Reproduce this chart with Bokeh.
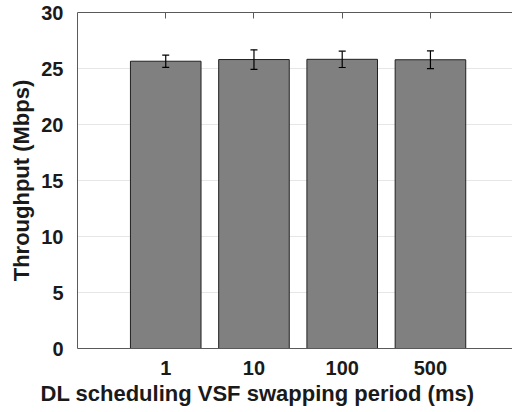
from bokeh.plotting import figure
from bokeh.models import (ColumnDataSource, Range1d, FixedTicker, LinearAxis,
                          Whisker, TeeHead, Title)
from bokeh.embed import file_html
from bokeh.resources import INLINE

# ---- data ----
categories = ["1", "10", "100", "500"]
throughput = [25.65, 25.80, 25.82, 25.78]
errors = [0.55, 0.87, 0.73, 0.80]
y_ticks = [0, 5, 10, 15, 20, 25, 30]

xpos = list(range(1, len(categories) + 1))
src = ColumnDataSource(dict(
    x=xpos,
    top=throughput,
    upper=[t + e for t, e in zip(throughput, errors)],
    lower=[t - e for t, e in zip(throughput, errors)],
))

FONT = "Liberation Sans"
AX = "#5a5a5a"

p = figure(frame_width=435, frame_height=336, output_backend="svg",
           toolbar_location=None,
           x_range=Range1d(0, 4.93), y_range=Range1d(0, 30),
           min_border_left=77, min_border_right=0, min_border_top=12,
           min_border_bottom=64)
p.outline_line_color = None
p.background_fill_color = "white"

p.vbar(x="x", top="top", width=0.8, bottom=0, source=src,
       fill_color="#808080", line_color="#202020", line_width=1)

w = Whisker(base="x", upper="upper", lower="lower", source=src,
            level="overlay",
            line_color="black", line_width=1.2,
            upper_head=TeeHead(size=7, line_color="black", line_width=1.2),
            lower_head=TeeHead(size=7, line_color="black", line_width=1.2))
p.add_layout(w)

# x axis
xa = p.xaxis[0]
xa.ticker = FixedTicker(ticks=xpos)
xa.major_label_overrides = {i: c for i, c in zip(xpos, categories)}
xa.major_tick_in = 0
xa.major_tick_out = 0
xa.minor_tick_line_color = None
xa.axis_line_color = AX
xa.major_label_text_font = FONT
xa.major_label_text_font_style = "bold"
xa.major_label_text_font_size = "20px"
xa.major_label_text_color = "#1a1a1a"
xa.major_label_standoff = 12

# y axis
ya = p.yaxis[0]
ya.ticker = FixedTicker(ticks=y_ticks)
ya.major_tick_in = 0
ya.major_tick_out = 0
ya.minor_tick_line_color = None
ya.axis_line_color = AX
ya.major_label_text_font = FONT
ya.major_label_text_font_style = "bold"
ya.major_label_text_font_size = "20px"
ya.major_label_text_color = "#1a1a1a"
ya.major_label_standoff = 14
ya.axis_label = "Throughput (Mbps)"
ya.axis_label_text_font = FONT
ya.axis_label_text_font_style = "bold"
ya.axis_label_text_font_size = "22px"
ya.axis_label_text_color = "#1a1a1a"
ya.axis_label_standoff = 4

# top axis with inward ticks only
ta = LinearAxis(ticker=FixedTicker(ticks=xpos), major_tick_in=6,
                major_tick_out=0, major_label_standoff=0,
                major_label_overrides={i: "" for i in xpos},
                major_label_text_font_size="4px",
                minor_tick_line_color=None,
                axis_line_color=AX, major_tick_line_color=AX)
p.add_layout(ta, "above")

p.xgrid.grid_line_color = None
p.ygrid.ticker = FixedTicker(ticks=y_ticks)
p.ygrid.grid_line_color = "#e6e6e6"
p.ygrid.grid_line_width = 1

# x axis title, centered on the whole figure like the reference
t = Title(text="DL scheduling VSF swapping period (ms)", align="left",
          offset=-37, standoff=2, text_font=FONT, text_font_style="bold",
          text_font_size="22px", text_color="#1a1a1a")
p.add_layout(t, "below")

open("out.html", "w").write(file_html(p, INLINE))
